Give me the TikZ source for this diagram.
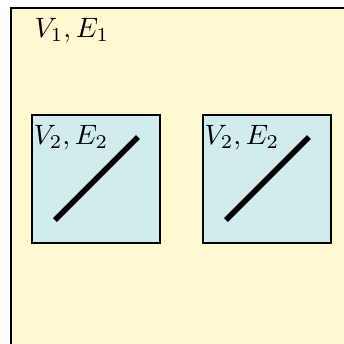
\documentclass[tikz,border=0pt]{standalone}
\usetikzlibrary{positioning}
\definecolor{outerfill}{RGB}{255,248,208}
\definecolor{innerfill}{RGB}{208,236,236}

\begin{document}
\begin{tikzpicture}[x=0.01255cm,y=-0.01255cm]
  \useasboundingbox (0,0) rectangle (344,344);
  % outer region
  \draw[line width=0.6pt,fill=outerfill] (11,8) rectangle (380,380);
  \node[anchor=base west,inner sep=0pt] (lblouter) at (34,37) {$V_1,E_1$};
  % the two inner regions
  \foreach \x/\n in {32/a,203/b} {
    \draw[line width=0.6pt,fill=innerfill] (\x,115) rectangle (\x+128,243);
    \node[anchor=base west,inner sep=0pt] (lbl\n) at (\x+1,144) {$V_2,E_2$};
    \draw[line width=1.9pt] (\x+23,220) -- (\x+106,137);
  }
\end{tikzpicture}
\end{document}
